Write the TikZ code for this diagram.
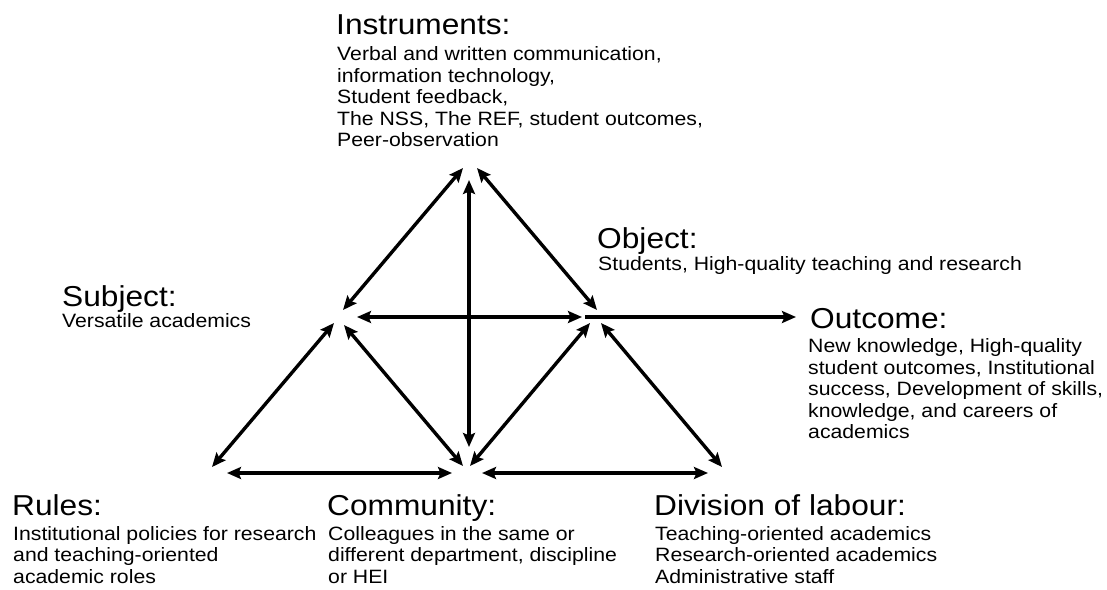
\documentclass[tikz,border=0pt]{standalone}
\usepackage{fontspec}
\setmainfont{Liberation Sans}[FakeStretch=1.1]
\usetikzlibrary{arrows.meta}
\tikzset{
  tip/.tip={Stealth[length=14pt,width=12pt,inset=2.5pt]},
  arr/.style={line width=3.4pt, {tip}-{tip}},
  arrone/.style={line width=3.4pt, -{tip}},
  head/.style={anchor=base west, inner sep=0pt, font=\fontsize{28.8}{30}\selectfont},
  body/.style={anchor=base west, inner sep=0pt, font=\fontsize{19.3}{21.6}\selectfont},
}
\begin{document}
\begin{tikzpicture}[x=1pt,y=-1pt]
\path[use as bounding box] (0,0) rectangle (1107,589);

% arrow end points
\coordinate (iS) at (463,168); \coordinate (sI) at (343,310);
\coordinate (iO) at (477,168); \coordinate (oI) at (597,310);
\coordinate (iC) at (469,180); \coordinate (cI) at (469,447);
\coordinate (sO) at (357,317); \coordinate (oS) at (582,317);
\coordinate (oOut) at (585,317); \coordinate (outO) at (796,317);
\coordinate (sR) at (334,323); \coordinate (rS) at (212,467);
\coordinate (sC) at (344,325); \coordinate (cS) at (463,466);
\coordinate (oC) at (590,323); \coordinate (cO) at (470,466);
\coordinate (oD) at (601,323); \coordinate (dO) at (722,467);
\coordinate (rC) at (227,473); \coordinate (cR) at (452,473);
\coordinate (cD) at (482,473); \coordinate (dC) at (708,473);

\draw[arr] (iS) -- (sI);
\draw[arr] (iO) -- (oI);
\draw[arr] (iC) -- (cI);
\draw[arr] (sO) -- (oS);
\draw[arrone] (oOut) -- (outO);
\draw[arr] (sR) -- (rS);
\draw[arr] (sC) -- (cS);
\draw[arr] (oC) -- (cO);
\draw[arr] (oD) -- (dO);
\draw[arr] (rC) -- (cR);
\draw[arr] (cD) -- (dC);

% Instruments
\node[head] (insH) at (336,34) {Instruments:};
\node[body] (ins1) at (337,60.5) {Verbal and written communication,};
\node[body] (ins2) at (337,82) {information technology,};
\node[body] (ins3) at (337,103.5) {Student feedback,};
\node[body] (ins4) at (337,125) {The NSS, The REF, student outcomes,};
\node[body] (ins5) at (337,146.5) {Peer-observation};

% Object
\node[head] (objH) at (597,248) {Object:};
\node[body] (obj1) at (598,270) {Students, High-quality teaching and research};

% Subject
\node[head] (subH) at (62,306) {Subject:};
\node[body] (sub1) at (62,327) {Versatile academics};

% Outcome
\node[head] (outH) at (810,328) {Outcome:};
\node[body] (out1) at (808,352.5) {New knowledge, High-quality};
\node[body] (out2) at (808,374) {student outcomes, Institutional};
\node[body] (out3) at (808,395.5) {success, Development of skills,};
\node[body] (out4) at (808,417) {knowledge, and careers of};
\node[body] (out5) at (808,438.5) {academics};

% Rules
\node[head] (rulH) at (12,515) {Rules:};
\node[body] (rul1) at (13,540) {Institutional policies for research};
\node[body] (rul2) at (13,561.6) {and teaching-oriented};
\node[body] (rul3) at (13,583.2) {academic roles};

% Community
\node[head] (comH) at (327,515) {Community:};
\node[body] (com1) at (328,540) {Colleagues in the same or};
\node[body] (com2) at (328,561.6) {different department, discipline};
\node[body] (com3) at (328,583.2) {or HEI};

% Division of labour
\node[head] (divH) at (654,515) {Division of labour:};
\node[body] (div1) at (655,540) {Teaching-oriented academics};
\node[body] (div2) at (655,561.6) {Research-oriented academics};
\node[body] (div3) at (655,583.2) {Administrative staff};
\end{tikzpicture}
\end{document}
